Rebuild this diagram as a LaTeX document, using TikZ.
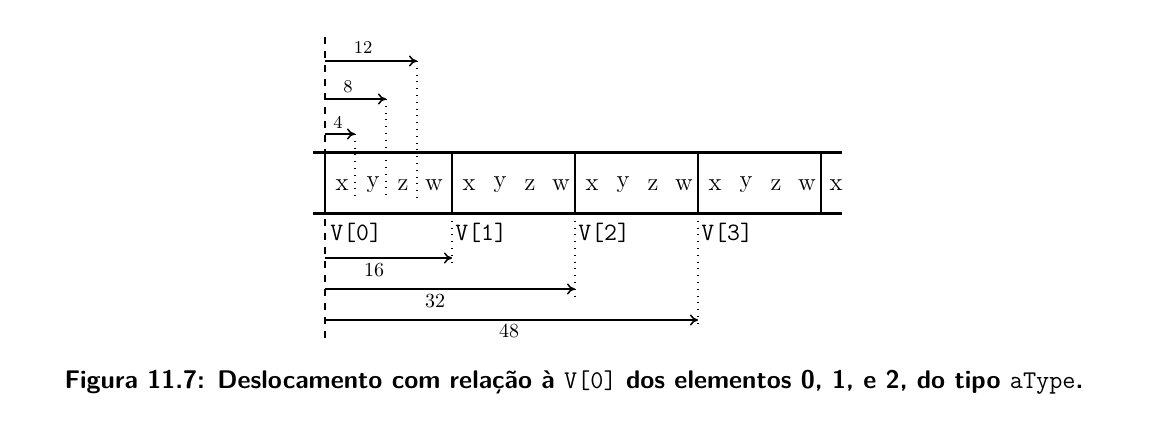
\documentclass[tikz,border=0pt]{standalone}
\usetikzlibrary{arrows.meta}
\begin{document}
\begin{tikzpicture}[x=0.5pt,y=-0.5pt,
  cellline/.style={line width=0.9pt},
  railline/.style={line width=1.5pt},
  guide/.style={line width=0.55pt,dash pattern=on 3.5pt off 3.5pt},
  dots/.style={line width=0.8pt,dash pattern=on 0.4pt off 3pt},
  offarrow/.style={line width=0.75pt,-{To[length=4pt,width=5.5pt]}},
  letter/.style={font=\fontsize{12.5}{14}\selectfont,inner sep=0pt},
  vlabel/.style={font=\fontsize{12.5}{14}\selectfont\ttfamily,anchor=west,inner sep=0pt},
  toplabel/.style={font=\fontsize{9}{11}\selectfont,inner sep=0pt},
  botlabel/.style={font=\fontsize{10}{12}\selectfont,inner sep=0pt}]
\useasboundingbox (0,0) rectangle (1168,421);
% origin guide
\coordinate (g0) at (325,37);
\coordinate (g1) at (325,340);
\draw[guide] (g0) -- (g1);
% rails
\coordinate (rtl) at (313,153); \coordinate (rtr) at (842,153);
\coordinate (rbl) at (313,214); \coordinate (rbr) at (842,214);
\draw[railline] (rtl) -- (rtr);
\draw[railline] (rbl) -- (rbr);
% cell separators
\foreach \n/\x in {c0/325,c1/452,c2/575,c3/698,c4/821}{
  \coordinate (\n t) at (\x,153);
  \coordinate (\n b) at (\x,214);
  \draw[cellline] (\n t) -- (\n b);
}
% letters
\foreach \c/\x in {0/325,1/452,2/575,3/698}{
  \node[letter] (x\c) at (\x+17,185) {x};
  \node[letter] (y\c) at (\x+48,185) {y};
  \node[letter] (z\c) at (\x+78,185) {z};
  \node[letter] (w\c) at (\x+109,185) {w};
}
\node[letter] (x4) at (836,185) {x};
% top offset arrows
\coordinate (a4s) at (325,134); \coordinate (a4e) at (355,134); \coordinate (d4) at (355,198);
\coordinate (a8s) at (325,99);  \coordinate (a8e) at (386,99);  \coordinate (d8) at (386,198);
\coordinate (a12s) at (325,61); \coordinate (a12e) at (417,61); \coordinate (d12) at (417,198);
\draw[offarrow] (a4s) -- (a4e);
\draw[offarrow] (a8s) -- (a8e);
\draw[offarrow] (a12s) -- (a12e);
\draw[dots] (a4e) -- (d4);
\draw[dots] (a8e) -- (d8);
\draw[dots] (a12e) -- (d12);
\node[toplabel] (l4) at (338,122) {4};
\node[toplabel] (l8) at (348,87) {8};
\node[toplabel] (l12) at (363,48) {12};
% V labels
\node[vlabel] (v0) at (330,233) {V[0]};
\node[vlabel] (v1) at (455,233) {V[1]};
\node[vlabel] (v2) at (578,233) {V[2]};
\node[vlabel] (v3) at (701,233) {V[3]};
% bottom offset arrows
\coordinate (b16s) at (325,258); \coordinate (b16e) at (452,258); \coordinate (e16) at (452,266);
\coordinate (b32s) at (325,289); \coordinate (b32e) at (575,289); \coordinate (e32) at (575,296);
\coordinate (b48s) at (325,320); \coordinate (b48e) at (698,320); \coordinate (e48) at (698,327);
\draw[dots] (c1b) -- (e16);
\draw[dots] (c2b) -- (e32);
\draw[dots] (c3b) -- (e48);
\draw[offarrow] (b16s) -- (b16e);
\draw[offarrow] (b32s) -- (b32e);
\draw[offarrow] (b48s) -- (b48e);
\node[botlabel] (l16) at (374,270) {16};
\node[botlabel] (l32) at (435,301) {32};
\node[botlabel] (l48) at (509,331) {48};
% caption
\node[font=\fontsize{12.75}{15}\selectfont\sffamily\bfseries,inner sep=0pt] (cap) at (574,382)
  {Figura 11.7: Deslocamento com relação à {\normalfont\ttfamily V[0]} dos elementos 0, 1, e 2, do tipo {\normalfont\ttfamily aType}.};
\end{tikzpicture}
\end{document}
